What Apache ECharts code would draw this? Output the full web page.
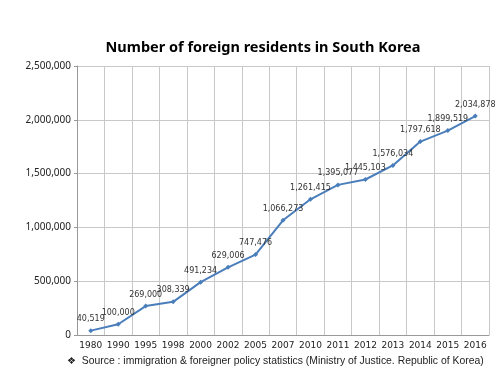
<!DOCTYPE html>
<html>
<head>
<meta charset="utf-8">
<script src="https://cdn.jsdelivr.net/npm/echarts@6.0.0/dist/echarts.min.js"></script>
<style>
  html, body { margin: 0; padding: 0; background: #fff; }
  #chart { width: 500px; height: 375px; }
</style>
</head>
<body>
<div id="chart"></div>
<script>
// Foreign residents in South Korea, by year
const years = ['1980', '1990', '1995', '1998', '2000', '2002', '2005', '2007',
               '2010', '2011', '2012', '2013', '2014', '2015', '2016'];
const residents = [40519, 100000, 269000, 308339, 491234, 629006, 747476, 1066273,
                   1261415, 1395077, 1445103, 1576034, 1797618, 1899519, 2034878];
const yTicks = [0, 500000, 1000000, 1500000, 2000000, 2500000];

const fmt = v => v.toLocaleString('en-US');

const chart = echarts.init(document.getElementById('chart'), null, { renderer: 'canvas' });

chart.setOption({
    animation: false,
    backgroundColor: '#ffffff',
    title: {
        text: 'Number of foreign residents in South Korea',
        left: 258, top: 35, textAlign: 'center',
        textStyle: { fontFamily: 'Noto Sans', fontSize: 14.5, fontWeight: 'bold', color: '#000' }
    },
    graphic: [{
        type: 'text', left: 67, top: 356,
        style: {
            text: '\u2756  Source : immigration & foreigner policy statistics (Ministry of Justice. Republic of Korea)',
            font: '10.4px "Liberation Sans"', fill: '#222'
        }
    }],
    grid: { left: 77, right: 11, top: 66, bottom: 40 },
    xAxis: {
        type: 'category',
        data: years,
        boundaryGap: true,
        axisLine: { lineStyle: { color: '#999' } },
        axisTick: { show: false },
        axisLabel: { interval: 0, color: '#222', fontSize: 9, fontFamily: 'DejaVu Sans', margin: 6 },
        splitLine: { show: true, interval: 0, lineStyle: { color: '#c8c8c8', width: 1 } }
    },
    yAxis: {
        type: 'value',
        min: yTicks[0], max: yTicks[yTicks.length - 1], interval: 500000,
        axisLine: { show: true, lineStyle: { color: '#999' } },
        axisTick: { show: true, length: 3, lineStyle: { color: '#999' } },
        axisLabel: { color: '#222', fontSize: 10, fontFamily: 'Noto Sans', formatter: fmt, margin: 6 },
        splitLine: { lineStyle: { color: '#c8c8c8', width: 1 } }
    },
    series: [{
        type: 'line',
        data: residents,
        symbol: 'diamond',
        symbolSize: 5,
        lineStyle: { color: '#4a7ebb', width: 2 },
        itemStyle: { color: '#4a7ebb' },
        label: {
            show: true,
            position: 'top',
            distance: 5,
            formatter: p => fmt(p.value),
            fontFamily: 'DejaVu Sans', fontSize: 8, color: '#333'
        }
    }]
});
</script>
</body>
</html>
